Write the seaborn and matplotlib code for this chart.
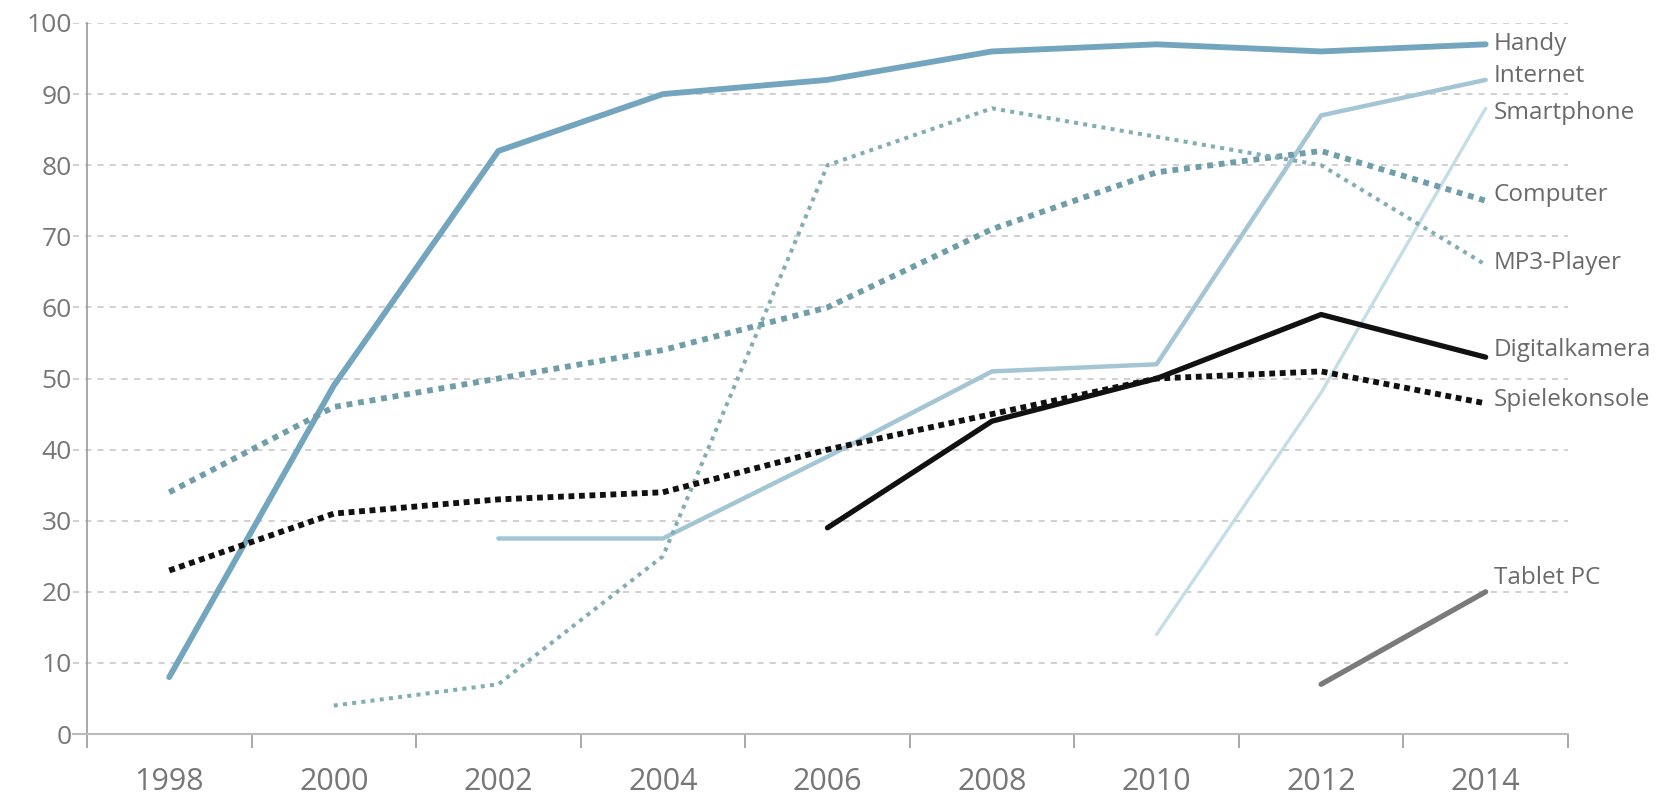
import numpy as np
import pandas as pd
import matplotlib.pyplot as plt
import seaborn as sns

# values (percent), NaN = no survey value
years = ['1998', '2000', '2002', '2004', '2006', '2008', '2010', '2012', '2014']
handy = [8, 49, 82, 90, 92, 96, 97, 96, 97]
internet = [np.nan, np.nan, 27.5, 27.5, 39, 51, 52, 87, 92]
smartphone = [np.nan, np.nan, np.nan, np.nan, np.nan, np.nan, 14, 48, 88]
computer = [34, 46, 50, 54, 60, 71, 79, 82, 75]
mp3 = [np.nan, 4, 7, 25, 80, 88, 84, 80, 66]
kamera = [np.nan, np.nan, np.nan, np.nan, 29, 44, 50, 59, 53]
konsole = [23, 31, 33, 34, 40, 45, 50, 51, 46.5]
tablet = [np.nan, np.nan, np.nan, np.nan, np.nan, np.nan, np.nan, 7, 20]

series_names = ['Handy', 'Internet', 'Smartphone', 'Computer', 'MP3-Player',
                'Digitalkamera', 'Spielekonsole', 'Tablet PC']
series_values = [handy, internet, smartphone, computer, mp3, kamera, konsole, tablet]
label_y = [97, 92.5, 87.3, 75.8, 66.2, 54, 47, 22]

styles = {
    'Handy': dict(color='#73a6be', lw=4.2, ls='-'),
    'Internet': dict(color='#a3c5d4', lw=3.2, ls='-'),
    'Smartphone': dict(color='#c4dde6', lw=2.4, ls='-'),
    'Computer': dict(color='#6f9ea9', lw=4.2, ls=(0, (1, 1.0))),
    'MP3-Player': dict(color='#82adb5', lw=2.9, ls=(0, (1, 1.3))),
    'Digitalkamera': dict(color='#111111', lw=3.8, ls='-'),
    'Spielekonsole': dict(color='#111111', lw=4.2, ls=(0, (1, 0.8))),
    'Tablet PC': dict(color='#7a7a7a', lw=3.8, ls='-'),
}

sns.set_theme(style='white')
plt.rcParams['font.family'] = ['Open Sans', 'DejaVu Sans']

fig = plt.figure(figsize=(16.62, 8.01), dpi=100)
ax = fig.add_axes([0.0439, 0.0836, 0.8995, 0.8877])

xpos = np.arange(len(years))
for name, vals in zip(series_names, series_values):
    st = styles[name]
    df = pd.DataFrame({'x': xpos, 'y': vals}).dropna()
    sns.lineplot(data=df, x='x', y='y', ax=ax, color=st['color'],
                 linewidth=st['lw'], linestyle=st['ls'], zorder=3)

for name, ly in zip(series_names, label_y):
    ax.text(8.05, ly, name, ha='left', va='center', fontsize=17.5,
            color='#6a6a6a', zorder=4)

ax.set_xlim(-0.585, 8.5)
ax.set_ylim(0, 100)
ax.set_xlabel('')
ax.set_ylabel('')

ax.set_xticks(xpos)
ax.set_xticklabels(years)
ax.set_xticks(np.arange(-0.5, 9, 1), minor=True)
ax.tick_params(axis='x', which='major', length=0, pad=24, labelsize=22, labelcolor='#777777')
ax.tick_params(axis='x', which='minor', bottom=True, length=10, width=1.2, color='#999999', direction='out')

ax.set_yticks(range(0, 101, 10))
ax.tick_params(axis='y', length=0, pad=11, labelsize=19, labelcolor='#777777')
ax.yaxis.grid(True, linestyle=(0, (4, 4)), color='#c4c4c4', linewidth=1.1)
ax.xaxis.grid(False)

for side in ['top', 'right']:
    ax.spines[side].set_visible(False)
ax.spines['left'].set_position(('data', -0.5))
ax.spines['left'].set_color('#999999')
ax.spines['left'].set_linewidth(1.2)
ax.spines['bottom'].set_color('#bbbbbb')
ax.spines['bottom'].set_linewidth(1.5)

fig.savefig('out.png', dpi=100, facecolor='white')
